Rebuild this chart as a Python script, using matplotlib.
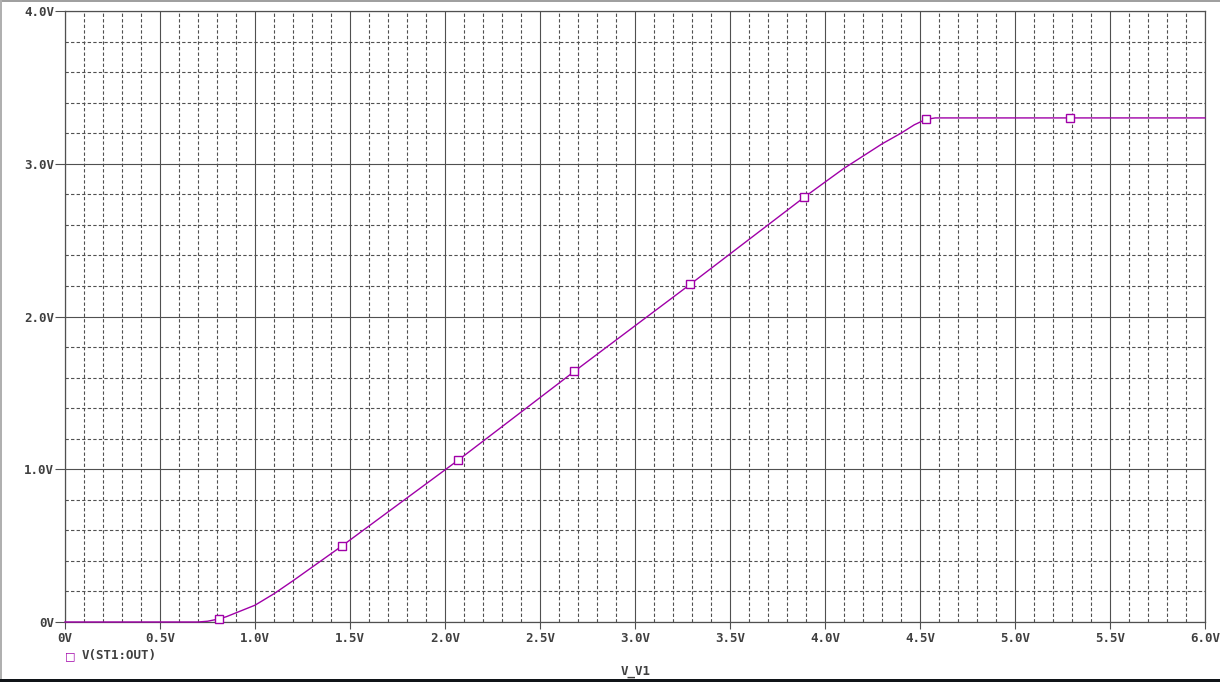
#! /usr/bin/python3
# PSpice style DC sweep plot of V(ST1:OUT) against V_V1
import matplotlib
matplotlib.use('Agg')
import matplotlib.pyplot as plt
from matplotlib.patches import Rectangle
import numpy as np

# sweep data
v_in = [0.0, 0.70, 0.75, 0.81, 0.85, 0.90, 1.00, 1.10, 1.20, 1.46, 2.07, 2.68,
	3.29, 3.89, 4.00, 4.10, 4.20, 4.30, 4.40, 4.47, 4.53, 4.58, 5.29, 6.0]
v_out = [0.0, 0.0, 0.005, 0.02, 0.035, 0.06, 0.11, 0.185, 0.27, 0.50, 1.06, 1.64,
	2.21, 2.78, 2.88, 2.97, 3.05, 3.13, 3.20, 3.255, 3.29, 3.30, 3.30, 3.30]
marker_idx = [3, 9, 10, 11, 12, 13, 20, 22]

x_ticks = [0, 0.5, 1.0, 1.5, 2.0, 2.5, 3.0, 3.5, 4.0, 4.5, 5.0, 5.5, 6.0]
x_labels = ['0V', '0.5V', '1.0V', '1.5V', '2.0V', '2.5V', '3.0V', '3.5V', '4.0V',
	'4.5V', '5.0V', '5.5V', '6.0V']
y_ticks = [0, 1.0, 2.0, 3.0, 4.0]
y_labels = ['0V', '1.0V', '2.0V', '3.0V', '4.0V']

trace_color = '#a000a8'
grid_color = '#505050'
text_color = '#404040'
font = {'family': 'DejaVu Sans Mono', 'weight': 'bold', 'size': 9, 'color': text_color}

W, H = 1220, 682
fig = plt.figure(figsize=(W / 100, H / 100), dpi=100)
fig.patch.set_facecolor('white')

ax = fig.add_axes([65 / W, (H - 622) / H, 1140 / W, 611 / H])
ax.set_xlim(0, 6.0)
ax.set_ylim(0, 4.0)

# grid: solid majors, dashed minors
ax.set_xticks(x_ticks)
ax.set_xticks(np.arange(0, 6.01, 0.1), minor=True)
ax.set_yticks(y_ticks)
ax.set_yticks(np.arange(0, 4.01, 0.2), minor=True)
ax.grid(which='major', color=grid_color, linewidth=0.8, linestyle='-')
ax.grid(which='minor', color=grid_color, linewidth=0.8, linestyle=(0, (3, 2)))
ax.set_axisbelow(True)
ax.tick_params(which='minor', length=0)
ax.tick_params(axis='x', which='major', length=5, width=0.8, color=grid_color, pad=2.5)
ax.tick_params(axis='y', which='major', length=7, width=0.8, color=grid_color, pad=1)
ax.set_xticklabels(x_labels, fontdict=font)
ax.set_yticklabels(y_labels, fontdict=font)
for sp in ax.spines.values():
	sp.set_color(grid_color)
	sp.set_linewidth(0.9)

ax.plot(v_in, v_out, color=trace_color, linewidth=1.0, marker='s', markersize=5.5,
	markerfacecolor='white', markeredgecolor=trace_color, markeredgewidth=1.0,
	markevery=marker_idx, clip_on=False, zorder=5)

# legend entry and axis title
fig.text(70 / W, 1 - 656 / H, '\u25a1', ha='center', va='center', color=trace_color,
	fontsize=8, family='DejaVu Sans')
fig.text(82 / W, 1 - 656 / H, 'V(ST1:OUT)', ha='left', va='center', fontdict=font)
fig.text(636 / W, 1 - 671 / H, 'V_V1', ha='center', va='center', fontdict=font)

# window frame bits
fig.patches.append(Rectangle((0, 1 - 2 / H), 1, 2 / H, transform=fig.transFigure,
	facecolor='#a0a0a0', edgecolor='none'))
fig.patches.append(Rectangle((0, 0), 2 / W, 1, transform=fig.transFigure,
	facecolor='#b0b0b0', edgecolor='none'))
fig.patches.append(Rectangle((0, 0), 1, 3 / H, transform=fig.transFigure,
	facecolor='#101418', edgecolor='none'))

plt.savefig('out.png', dpi=100)
